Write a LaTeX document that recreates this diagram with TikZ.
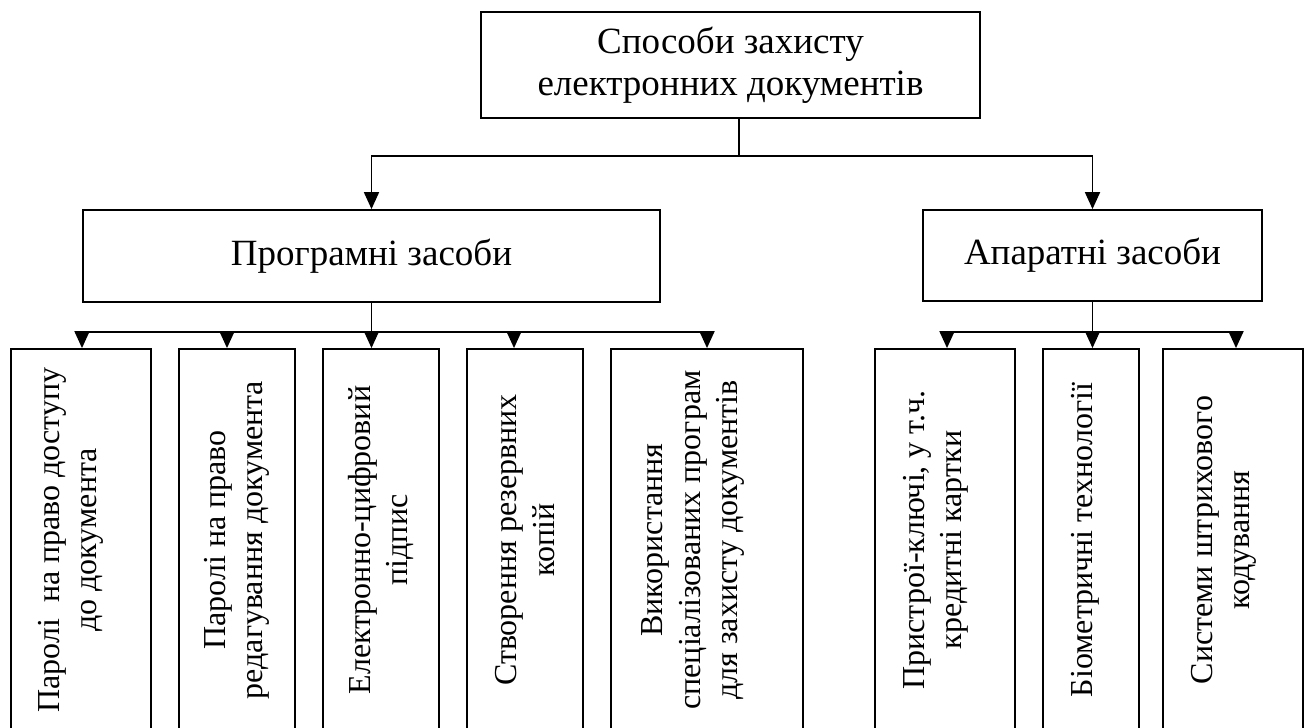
\documentclass[tikz,border=0pt]{standalone}
\usepackage{fontspec}
\setmainfont{Liberation Serif}
\usetikzlibrary{arrows.meta}
\begin{document}
\begin{tikzpicture}[x=1pt,y=-1pt,
  box/.style={draw,line width=1.8pt,inner sep=0pt,align=center,font=\fontsize{37}{42}\selectfont},
  vbox/.style={draw,line width=1.8pt,inner sep=0pt,minimum height=382pt},
  vtxt/.style={rotate=90,align=center,font=\fontsize{32}{37.5}\selectfont,inner sep=0pt},
  conn/.style={line width=1.8pt},
  arr/.style={line width=1.8pt,-{Triangle[length=17pt,width=15pt]}}]
\useasboundingbox (0,0) rectangle (1309,728);
\clip (0,0) rectangle (1309,728);
% top level
\node[box,minimum width=499pt,minimum height=106pt] (top) at (730.5,65) {Способи захисту\\електронних документів};
\node[box,minimum width=577pt,minimum height=92pt] (prog) at (371.5,256) {Програмні засоби};
\node[box,minimum width=339pt,minimum height=91pt] (apar) at (1092.5,255.5) {Апаратні засоби};
% bottom boxes
\node[vbox,minimum width=140pt] (b1) at (81,540) {};
\node[vbox,minimum width=116pt] (b2) at (237,540) {};
\node[vbox,minimum width=116pt] (b3) at (381,540) {};
\node[vbox,minimum width=116pt] (b4) at (525,540) {};
\node[vbox,minimum width=192pt] (b5) at (707,540) {};
\node[vbox,minimum width=140pt] (b6) at (945,540) {};
\node[vbox,minimum width=96pt] (b7) at (1091,540) {};
\node[vbox,minimum width=140pt] (b8) at (1233,540) {};
% texts
\node[vtxt] (t1) at ([xshift=-10pt]b1.center) {Паролі\ \ на право доступу\\до документа};
\node[vtxt] (t2) at (b2.center) {Паролі на право\\редагування документа};
\node[vtxt] (t3) at (b3.center) {Електронно-цифровий\\підпис};
\node[vtxt] (t4) at (b4.center) {Створення резервних\\копій};
\node[vtxt] (t5) at ([xshift=-14pt]b5.center) {Використання\\спеціалізованих програм\\для захисту документів};
\node[vtxt] (t6) at ([xshift=-9pt]b6.center) {Пристрої-ключі, у т.ч.\\кредитні картки};
\node[vtxt] (t7) at ([xshift=-6pt]b7.center) {Біометричні технології};
\node[vtxt] (t8) at ([xshift=-9pt]b8.center) {Системи штрихового\\кодування};
% first level connectors
\draw[conn] ([xshift=8.5pt]top.south) -- ++(0,37) coordinate (j1);
\draw[arr] (j1) -| (prog.north);
\draw[arr] (j1) -| (apar.north);
% program connectors
\draw[conn] (prog.south) -- ++(0,29) coordinate (j2);
\coordinate (a1) at ([xshift=1pt]b1.north);
\coordinate (a2) at ([xshift=-10pt]b2.north);
\coordinate (a4) at ([xshift=-11pt]b4.north);
\coordinate (a5) at (b5.north);
\draw[conn] (a1 |- j2) -- (a5 |- j2);
\draw[arr] (a1 |- j2) -- (a1);
\draw[arr] (a2 |- j2) -- (a2);
\draw[arr] (j2) -- (j2 |- b3.north);
\draw[arr] (a4 |- j2) -- (a4);
\draw[arr] (a5 |- j2) -- (a5);
% hardware connectors
\draw[conn] (apar.south) -- ++(0,30) coordinate (j3);
\coordinate (a6) at ([xshift=2pt]b6.north);
\coordinate (a8) at ([xshift=3pt]b8.north);
\draw[conn] (a6 |- j3) -- (a8 |- j3);
\draw[arr] (a6 |- j3) -- (a6);
\draw[arr] (j3) -- (j3 |- b7.north);
\draw[arr] (a8 |- j3) -- (a8);
\end{tikzpicture}
\end{document}
